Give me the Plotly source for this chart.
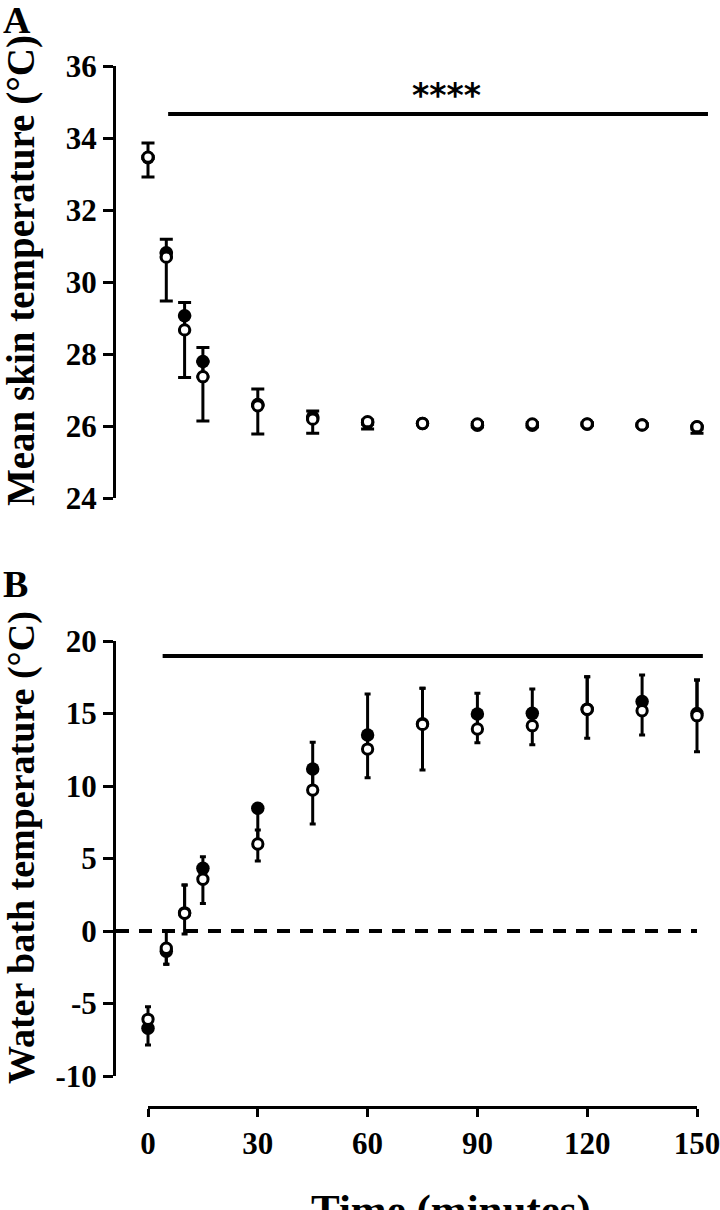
import plotly.graph_objects as go

# ---------------- data ----------------
time_min = [0, 5, 10, 15, 30, 45, 60, 75, 90, 105, 120, 135, 150]

# Panel A: mean skin temperature (°C)
skin_filled = [33.45, 30.81, 29.06, 27.79, 26.60, 26.25, 26.10, 26.07, 26.02, 26.02, 26.05, 26.03, 25.97]
skin_filled_up = [0.41, 0.38, 0.37, 0.39, 0.43, 0.17, 0.02, 0.03, 0.04, 0.04, 0.03, 0.03, 0.01]
skin_filled_dn = [0.02, 0.12, 0.39, 0.42, 0.04, 0.06, 0.05, 0.03, 0.04, 0.04, 0.03, 0.03, 0.05]
skin_open = [33.47, 30.69, 28.67, 27.37, 26.56, 26.19, 26.12, 26.07, 26.06, 26.06, 26.06, 26.03, 25.98]
skin_open_up = [0.02, 0.12, 0.39, 0.42, 0.04, 0.06, 0.05, 0.03, 0.04, 0.04, 0.03, 0.03, 0.03]
skin_open_dn = [0.55, 1.22, 1.32, 1.23, 0.78, 0.39, 0.20, 0.03, 0.08, 0.08, 0.03, 0.03, 0.18]

# Panel B: water bath temperature (°C)
bath_filled = [-6.71, -1.40, 1.25, 4.32, 8.46, 11.17, 13.52, 14.30, 14.97, 15.01, 15.30, 15.82, 15.00]
bath_filled_up = [0.62, 0.21, 1.92, 0.80, 0.30, 1.84, 2.82, 2.44, 1.42, 1.68, 2.24, 1.84, 2.31]
bath_filled_dn = [1.15, 0.90, 0.03, 0.75, 2.46, 1.45, 0.97, 0.05, 1.04, 0.85, 0.01, 0.63, 0.15]
bath_open = [-6.09, -1.19, 1.22, 3.57, 6.00, 9.72, 12.55, 14.25, 13.93, 14.16, 15.29, 15.19, 14.85]
bath_open_up = [0.87, 1.19, 1.95, 0.75, 0.97, 1.45, 0.97, 2.49, 1.04, 0.85, 2.25, 0.63, 2.46]
bath_open_dn = [0.62, 1.11, 1.42, 1.67, 1.17, 2.34, 1.98, 3.15, 0.94, 1.31, 2.00, 1.67, 2.49]

# axes / tick labels
x_ticks = [0, 30, 60, 90, 120, 150]
x_ticktext = ["0", "30", "60", "90", "120", "150"]
yA_ticks = [24, 26, 28, 30, 32, 34, 36]
yA_ticktext = ["24", "26", "28", "30", "32", "34", "36"]
yB_ticks = [-10, -5, 0, 5, 10, 15, 20]
yB_ticktext = ["-10", "-5", "0", "5", "10", "15", "20"]

# significance bars and labels
sigA = dict(x0=5.5, x1=153.0, y=34.67, label="****", lx=81.5, ly=35.18)
sigB = dict(x0=4.0, x1=151.6, y=18.97, label="****", lx=77.7, ly=20.30)
zero_line_y = 0

# ---------------- layout geometry (pixels) ----------------
W, H = 720, 1210
AX_LEFT, AX_RIGHT = 116, 712
X0_PX, X150_PX = 148, 697
ppm = (X150_PX - X0_PX) / 150.0
X_MIN = -(X0_PX - AX_LEFT) / ppm
X_MAX = 150 + (AX_RIGHT - X150_PX) / ppm


def py(px):
    return 1 - px / H


SERIF = "Liberation Serif"
tickfont = dict(family=SERIF, size=31, color="black", weight="bold")

fig = go.Figure()


def add_series(x, y, up, dn, xa, ya, filled, capw):
    if filled:
        marker = dict(symbol="circle", size=13.5, color="black", line=dict(width=0))
    else:
        marker = dict(symbol="circle", size=10.3, color="white", line=dict(color="black", width=3))
    fig.add_trace(go.Scatter(
        x=x, y=y, mode="markers", xaxis=xa, yaxis=ya, marker=marker,
        error_y=dict(type="data", symmetric=False, array=up, arrayminus=dn,
                     color="black", thickness=3, width=capw),
        cliponaxis=False, showlegend=False, hoverinfo="skip"))


# carrier trace for the visible time axis (drawn first, underneath)
fig.add_trace(go.Scatter(x=[], y=[], xaxis="x3", yaxis="y2", mode="markers",
                         showlegend=False, hoverinfo="skip"))
add_series(time_min, skin_filled, skin_filled_up, skin_filled_dn, "x", "y", True, 6.5)
add_series(time_min, skin_open, skin_open_up, skin_open_dn, "x", "y", False, 6.5)
add_series(time_min, bath_filled, bath_filled_up, bath_filled_dn, "x2", "y2", True, 3)
add_series(time_min, bath_open, bath_open_up, bath_open_dn, "x2", "y2", False, 3)

yax_common = dict(showline=True, linewidth=3, linecolor="black", ticks="outside",
                  ticklen=10, tickwidth=3, tickcolor="black", showgrid=False,
                  zeroline=False, tickfont=tickfont, automargin=False, fixedrange=True)

fig.update_layout(
    width=W, height=H,
    margin=dict(l=0, r=0, t=0, b=0),
    paper_bgcolor="white", plot_bgcolor="rgba(0,0,0,0)",
    showlegend=False,
    xaxis=dict(domain=[AX_LEFT / W, AX_RIGHT / W], range=[X_MIN, X_MAX], visible=False,
               anchor="y"),
    yaxis=dict(domain=[py(498), py(66)], range=[24, 36], anchor="x",
               tickvals=yA_ticks, ticktext=yA_ticktext, **yax_common),
    xaxis2=dict(domain=[AX_LEFT / W, AX_RIGHT / W], range=[X_MIN, X_MAX], visible=False,
                anchor="y2"),
    yaxis2=dict(domain=[py(1076), py(641)], range=[-10, 20], anchor="x2",
                tickvals=yB_ticks, ticktext=yB_ticktext, **yax_common),
    xaxis3=dict(domain=[X0_PX / W, X150_PX / W], range=[0, 150], anchor="free",
                position=py(1107), showline=True, linewidth=3, linecolor="black",
                ticks="outside", ticklen=8, tickwidth=3, tickcolor="black",
                tickvals=x_ticks, ticktext=x_ticktext, tickfont=tickfont,
                ticklabeloverflow="allow",
                showgrid=False, zeroline=False, automargin=False, fixedrange=True),
)

# significance bars
fig.add_shape(type="line", xref="x", yref="y", x0=sigA["x0"], x1=sigA["x1"],
              y0=sigA["y"], y1=sigA["y"], line=dict(color="black", width=4))
fig.add_shape(type="line", xref="x2", yref="y2", x0=sigB["x0"], x1=sigB["x1"],
              y0=sigB["y"], y1=sigB["y"], line=dict(color="black", width=4))
# dashed zero line
fig.add_shape(type="line", xref="x2", yref="y2", x0=X_MIN, x1=150,
              y0=zero_line_y, y1=zero_line_y,
              line=dict(color="black", width=4, dash="13px,10px"))

starfont = dict(family="DejaVu Sans", size=33, color="black", weight="bold")
fig.add_annotation(x=sigA["lx"], y=sigA["ly"], xref="x", yref="y", text=sigA["label"],
                   showarrow=False, font=starfont, xanchor="center", yanchor="middle")
fig.add_annotation(x=sigB["lx"], y=sigB["ly"], xref="x2", yref="y2", text=sigB["label"],
                   showarrow=False, font=starfont, xanchor="center", yanchor="middle")

titlefont = dict(family=SERIF, size=39, color="black", weight="bold")
fig.add_annotation(x=21 / W, y=py(271), xref="paper", yref="paper",
                   text="Mean skin temperature (°C)", textangle=-90, showarrow=False,
                   font=titlefont, xanchor="center", yanchor="middle")
fig.add_annotation(x=21 / W, y=py(848), xref="paper", yref="paper",
                   text="Water bath temperature (°C)", textangle=-90, showarrow=False,
                   font=dict(family=SERIF, size=38, color="black", weight="bold"),
                   xanchor="center", yanchor="middle")
fig.add_annotation(x=451 / W, y=py(1184), xref="paper", yref="paper",
                   text="Time (minutes)", showarrow=False,
                   font=dict(family=SERIF, size=43, color="black", weight="bold"),
                   xanchor="center", yanchor="top")

letterfont = dict(family=SERIF, size=38, color="black", weight="bold")
fig.add_annotation(x=1 / W, y=py(20), xref="paper", yref="paper", text="A",
                   showarrow=False, font=letterfont, xanchor="left", yanchor="middle")
fig.add_annotation(x=1 / W, y=py(584), xref="paper", yref="paper", text="B",
                   showarrow=False, font=letterfont, xanchor="left", yanchor="middle")

fig.write_html("out.html", config={"displayModeBar": False},
               post_script="document.body.style.margin='0';")
